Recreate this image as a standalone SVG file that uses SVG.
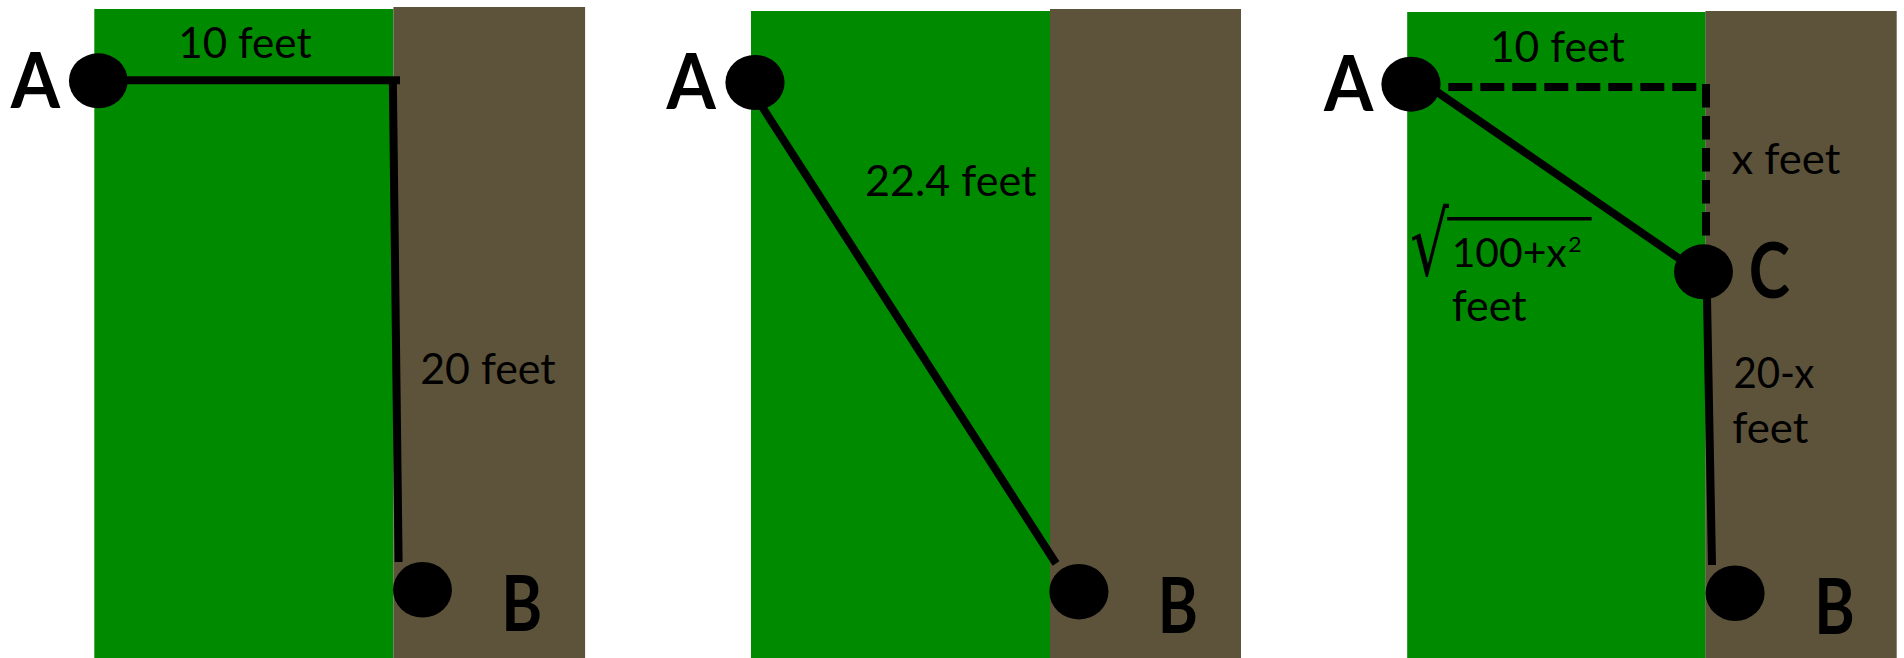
<svg xmlns="http://www.w3.org/2000/svg" width="1904" height="658" viewBox="0 0 1904 658">
<style>
.g{fill:#008a00}
.b{fill:#5c533a}
.ln{stroke:#000;stroke-width:8;fill:none}
.d{stroke:#000;stroke-width:8;fill:none;stroke-dasharray:24 8}
.pt{fill:#000}
.lab{font-family:Lato,"Open Sans","Liberation Sans",sans-serif;font-size:43px;fill:#000}
.big{font-family:Lato,"Open Sans","Liberation Sans",sans-serif;font-size:76px;font-weight:bold;fill:#000}
</style>
<rect width="1904" height="658" fill="#fff"/>
<g id="panel1">
<rect class="g" x="94.3" y="9" width="299.1" height="649"/>
<rect class="b" x="393.4" y="7" width="191.7" height="651"/>
</g>
<g id="panel2">
<rect class="g" x="751" y="11" width="299" height="647"/>
<rect class="b" x="1050" y="9" width="191" height="649"/>
</g>
<g id="panel3">
<rect class="g" x="1407.2" y="12" width="298.4" height="646"/>
<rect class="b" x="1705.4" y="11" width="191.3" height="647"/>
</g>
<g id="connectors">
<line class="ln" x1="98" y1="80.3" x2="400" y2="80.3"/>
<line class="ln" x1="392.8" y1="77" x2="398.6" y2="562"/>
<line class="ln" x1="752" y1="91" x2="1056" y2="563.5"/>
<line class="d" x1="1448.3" y1="87" x2="1697" y2="87"/>
<line class="d" x1="1706" y1="84" x2="1706" y2="236" style="stroke-dasharray:23.5 8.5"/>
<line class="ln" x1="1425" y1="83.6" x2="1690" y2="266"/>
<line class="ln" x1="1706.5" y1="271" x2="1712" y2="565"/>
</g>
<g id="A1"><ellipse class="pt" cx="98.3" cy="80.8" rx="29.4" ry="27.5"/><text class="big" x="10.7" y="107.7" textLength="49.3" lengthAdjust="spacingAndGlyphs">A</text></g>
<g id="B1"><ellipse class="pt" cx="422.5" cy="589.8" rx="29.5" ry="27.8"/><text class="big" x="501.3" y="631" textLength="41" lengthAdjust="spacingAndGlyphs">B</text></g>
<g id="A2"><ellipse class="pt" cx="755" cy="82.5" rx="29.6" ry="27.5"/><text class="big" x="666.5" y="109.3" textLength="49.3" lengthAdjust="spacingAndGlyphs">A</text></g>
<g id="B2"><ellipse class="pt" cx="1078.9" cy="591.7" rx="29.6" ry="27.7"/><text class="big" x="1157.8" y="632.7" textLength="40.2" lengthAdjust="spacingAndGlyphs">B</text></g>
<g id="A3"><ellipse class="pt" cx="1411" cy="84.2" rx="29.6" ry="27.5"/><text class="big" x="1323.9" y="111" textLength="49.3" lengthAdjust="spacingAndGlyphs">A</text></g>
<g id="C3"><ellipse class="pt" cx="1703.5" cy="271.8" rx="29.5" ry="27.5"/><text class="big" x="1748.8" y="297.5" textLength="41.2" lengthAdjust="spacingAndGlyphs">C</text></g>
<g id="B3"><ellipse class="pt" cx="1735.1" cy="593.2" rx="29.5" ry="27.8"/><text class="big" x="1814.2" y="634.3" textLength="40.5" lengthAdjust="spacingAndGlyphs">B</text></g>
<g id="labels">
<text class="lab" x="178.3" y="58.3" textLength="133.3" lengthAdjust="spacingAndGlyphs">10 feet</text>
<text class="lab" x="420.2" y="384" textLength="135.5" lengthAdjust="spacingAndGlyphs">20 feet</text>
<text class="lab" x="865.1" y="196" textLength="171.4" lengthAdjust="spacingAndGlyphs">22.4 feet</text>
<text class="lab" x="1489.9" y="61.7" textLength="134.8" lengthAdjust="spacingAndGlyphs">10 feet</text>
<text class="lab" x="1731.4" y="174" textLength="109" lengthAdjust="spacingAndGlyphs">x feet</text>
<text x="1410" y="275" style="font-family:'DejaVu Sans',sans-serif;font-size:88px;fill:#000" textLength="39" lengthAdjust="spacingAndGlyphs">√</text>
<line x1="1447" y1="218.7" x2="1591.7" y2="218.7" stroke="#000" stroke-width="3.5"/>
<text class="lab" x="1451.7" y="266.7" style="font-size:40px" textLength="115" lengthAdjust="spacingAndGlyphs">100+x</text>
<text class="lab" x="1568.3" y="252" style="font-size:22px" textLength="13.4" lengthAdjust="spacingAndGlyphs">2</text>
<text class="lab" x="1451.7" y="320.5" textLength="75" lengthAdjust="spacingAndGlyphs">feet</text>
<text class="lab" x="1733.4" y="388.3" textLength="80.9" lengthAdjust="spacingAndGlyphs">20-x</text>
<text class="lab" x="1732.2" y="443.3" textLength="76.3" lengthAdjust="spacingAndGlyphs">feet</text>
</g>
</svg>
